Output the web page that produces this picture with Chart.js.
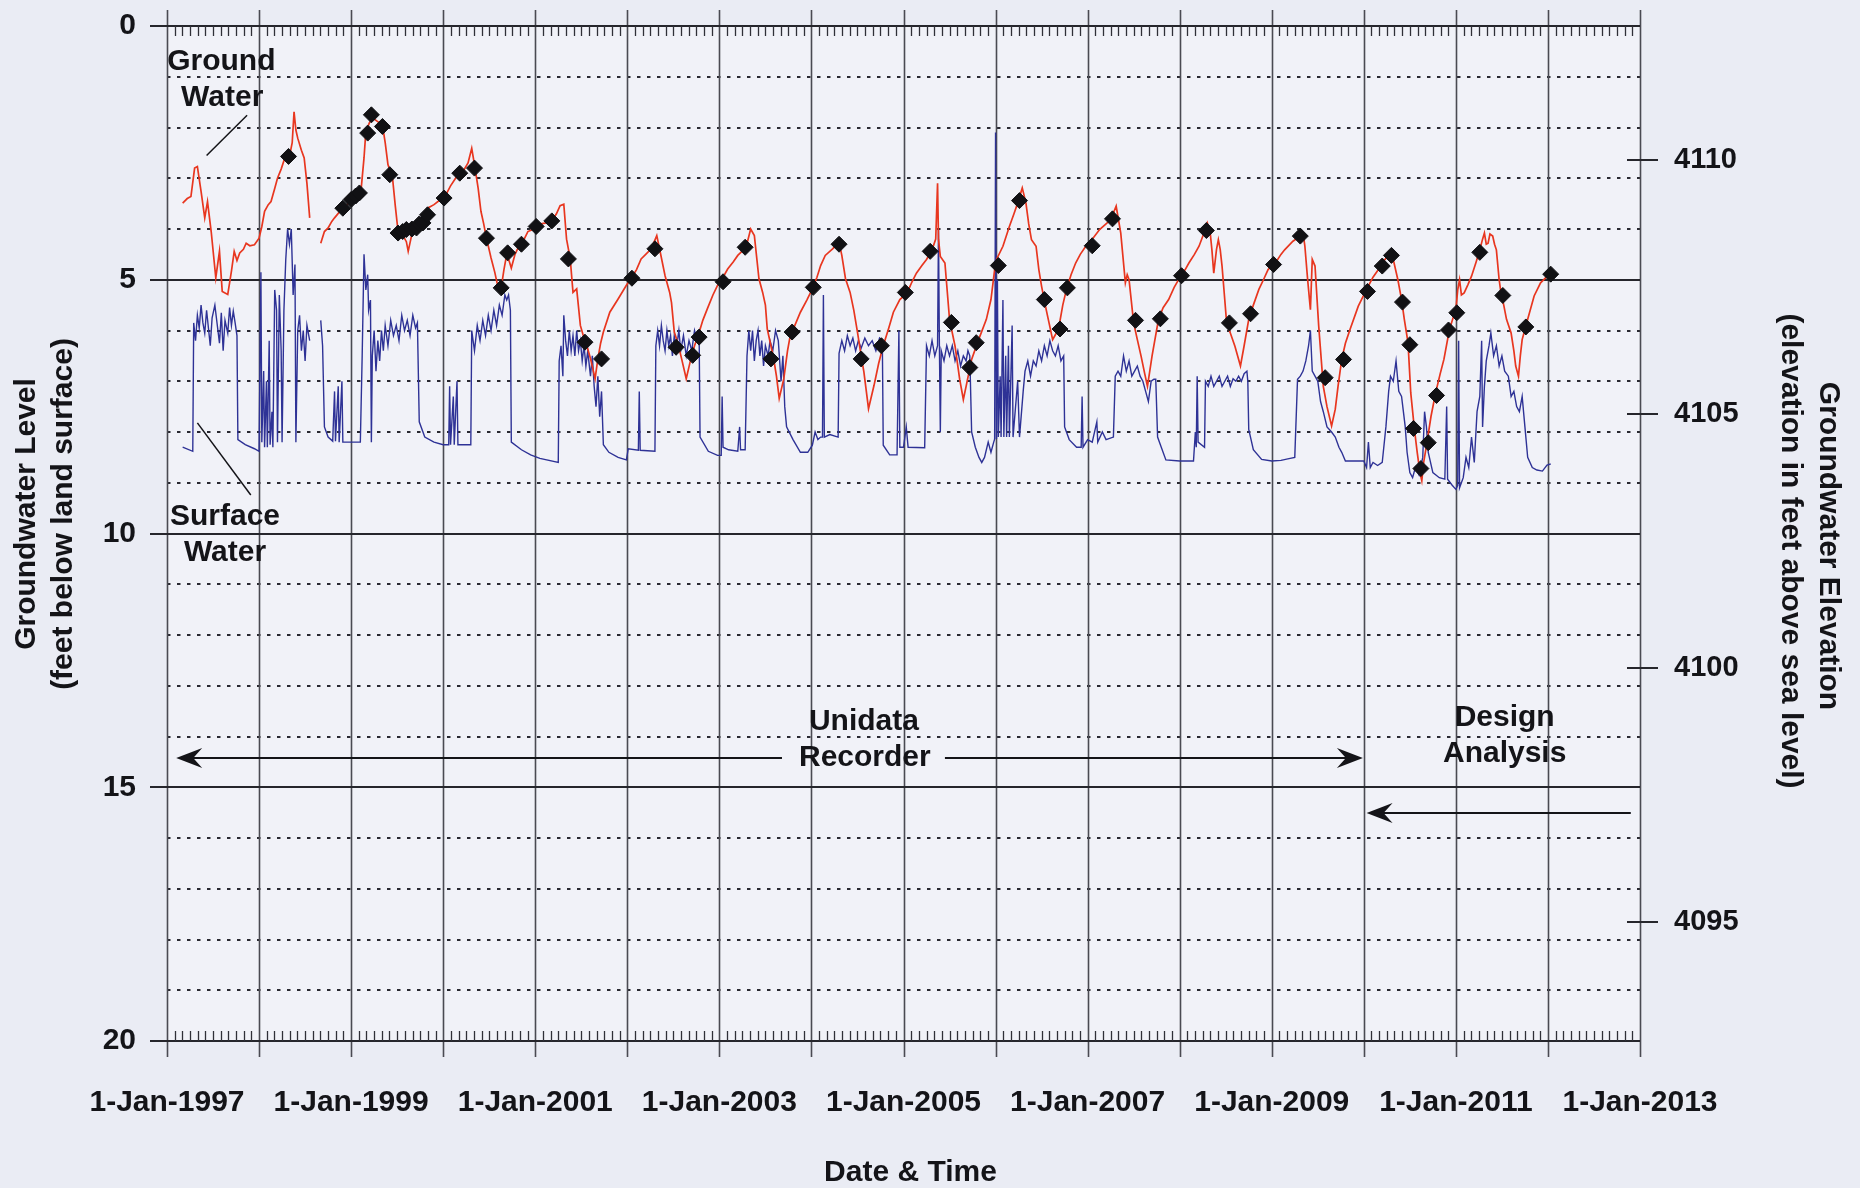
<!DOCTYPE html>
<html>
<head>
<meta charset="utf-8">
<script src="https://cdn.jsdelivr.net/npm/chart.js@4.4.1/dist/chart.umd.min.js"></script>
<style>
  html, body { margin: 0; padding: 0; background: #eaecf4; }
  #c { display: block; }
</style>
</head>
<body>
<canvas id="c" width="1860" height="1188"></canvas>
<script>
// year ticks on the date axis, labelled every other year
let yearTicks = [1997, 1998, 1999, 2000, 2001, 2002, 2003, 2004, 2005, 2006, 2007, 2008, 2009, 2010, 2011, 2012, 2013];
let labelYears = [1997, 1999, 2001, 2003, 2005, 2007, 2009, 2011, 2013];
let depthTicks = [0, 5, 10, 15, 20];
let elevTicks = [4095, 4100, 4105, 4110];
let elevAtZero = 4112.65; // elevation of land surface

// ground water level, feet below land surface [decimal year, depth]
let groundwater = [
  [1997.17, 3.49], [1997.22, 3.40], [1997.26, 3.36], [1997.30, 2.80], [1997.33, 2.77], [1997.37, 3.26],
  [1997.41, 3.78], [1997.44, 3.46], [1997.48, 4.05], [1997.53, 4.96], [1997.57, 4.44], [1997.60, 5.23],
  [1997.66, 5.29], [1997.70, 4.83], [1997.73, 4.44], [1997.76, 4.62], [1997.79, 4.47], [1997.83, 4.40],
  [1997.86, 4.28], [1997.90, 4.33], [1997.95, 4.31], [1998.00, 4.18], [1998.03, 3.95], [1998.06, 3.65],
  [1998.10, 3.52], [1998.13, 3.46], [1998.17, 3.20], [1998.20, 3.00], [1998.24, 2.82], [1998.28, 2.60],
  [1998.33, 2.57], [1998.36, 2.30], [1998.38, 1.69], [1998.40, 2.05], [1998.42, 2.21], [1998.46, 2.45],
  [1998.49, 2.60], [1998.52, 3.10], [1998.55, 3.78], [1998.61, null],
  [1998.67, 4.28], [1998.71, 4.05], [1998.75, 3.98], [1998.79, 3.85], [1998.82, 3.78], [1998.88, 3.65],
  [1998.93, 3.59], [1999.00, 3.42], [1999.04, 3.32], [1999.09, 3.25], [1999.11, 3.19], [1999.14, 2.60],
  [1999.16, 2.08], [1999.20, 1.90], [1999.24, 1.82], [1999.30, 1.90], [1999.34, 1.95], [1999.37, 2.30],
  [1999.40, 2.73], [1999.45, 3.00], [1999.48, 3.55], [1999.51, 4.05], [1999.56, 4.12], [1999.60, 4.25],
  [1999.62, 4.44], [1999.66, 4.10], [1999.69, 4.05], [1999.74, 3.95], [1999.80, 3.78], [1999.83, 3.59],
  [1999.90, 3.52], [1999.95, 3.45], [2000.01, 3.39], [2000.08, 3.15], [2000.16, 2.93], [2000.22, 2.85],
  [2000.27, 2.70], [2000.31, 2.41], [2000.34, 2.73], [2000.38, 3.20], [2000.41, 3.65], [2000.44, 3.90],
  [2000.47, 4.18], [2000.52, 4.57], [2000.56, 4.85], [2000.59, 5.10], [2000.63, 5.16], [2000.66, 4.80],
  [2000.69, 4.50], [2000.72, 4.65], [2000.74, 4.77], [2000.78, 4.50], [2000.83, 4.31], [2000.88, 4.20],
  [2000.92, 4.05], [2000.96, 4.02], [2001.01, 3.95], [2001.06, 3.90], [2001.12, 3.88], [2001.18, 3.84],
  [2001.23, 3.70], [2001.27, 3.54], [2001.31, 3.51], [2001.34, 4.20], [2001.38, 4.59], [2001.41, 5.25],
  [2001.45, 5.18], [2001.49, 5.90], [2001.53, 6.15], [2001.56, 6.30], [2001.60, 6.55], [2001.65, 6.95],
  [2001.68, 6.56], [2001.71, 6.25], [2001.74, 6.03], [2001.81, 5.64], [2001.90, 5.38], [2001.99, 5.11],
  [2002.05, 4.95], [2002.10, 4.80], [2002.15, 4.59], [2002.20, 4.50], [2002.26, 4.39], [2002.32, 4.13],
  [2002.35, 4.39], [2002.41, 4.92], [2002.46, 5.25], [2002.48, 5.45], [2002.51, 6.03], [2002.55, 6.25],
  [2002.59, 6.56], [2002.64, 6.95], [2002.69, 6.56], [2002.73, 6.30], [2002.77, 6.10], [2002.82, 5.80],
  [2002.87, 5.57], [2002.93, 5.30], [2002.98, 5.11], [2003.04, 4.95], [2003.09, 4.79], [2003.15, 4.65],
  [2003.20, 4.52], [2003.29, 4.36], [2003.34, 4.00], [2003.38, 4.13], [2003.43, 4.98], [2003.47, 5.25],
  [2003.50, 5.50], [2003.52, 5.97], [2003.56, 6.30], [2003.59, 6.56], [2003.62, 6.90], [2003.65, 7.34],
  [2003.70, 6.95], [2003.74, 6.40], [2003.77, 6.10], [2003.82, 5.90], [2003.88, 5.64], [2003.95, 5.40],
  [2004.01, 5.18], [2004.06, 4.95], [2004.10, 4.72], [2004.15, 4.52], [2004.23, 4.39], [2004.30, 4.26],
  [2004.33, 4.52], [2004.37, 4.98], [2004.42, 5.25], [2004.46, 5.60], [2004.50, 6.03], [2004.54, 6.50],
  [2004.57, 6.82], [2004.62, 7.54], [2004.68, 7.08], [2004.73, 6.65], [2004.78, 6.30], [2004.84, 5.95],
  [2004.89, 5.64], [2004.96, 5.39], [2005.04, 5.26], [2005.09, 5.05], [2005.14, 4.87], [2005.20, 4.72],
  [2005.25, 4.60], [2005.31, 4.41], [2005.35, 4.20], [2005.37, 3.10], [2005.38, 4.20], [2005.40, 4.54],
  [2005.45, 4.67], [2005.50, 5.78], [2005.56, 6.31], [2005.61, 6.96], [2005.65, 7.36], [2005.68, 7.10],
  [2005.74, 6.57], [2005.81, 6.21], [2005.90, 5.78], [2005.95, 5.39], [2005.99, 4.80], [2006.01, 4.60],
  [2006.08, 4.34], [2006.15, 3.95], [2006.20, 3.70], [2006.24, 3.49], [2006.29, 3.19], [2006.33, 3.49],
  [2006.36, 3.90], [2006.39, 4.21], [2006.44, 4.34], [2006.47, 4.80], [2006.50, 5.13], [2006.55, 5.59],
  [2006.62, 6.18], [2006.66, 6.05], [2006.69, 5.91], [2006.73, 5.50], [2006.77, 5.19], [2006.82, 4.90],
  [2006.87, 4.67], [2006.92, 4.50], [2006.98, 4.34], [2007.05, 4.20], [2007.13, 4.01], [2007.20, 3.90],
  [2007.25, 3.82], [2007.31, 3.55], [2007.36, 4.08], [2007.41, 5.06], [2007.43, 4.90], [2007.45, 5.00],
  [2007.50, 5.85], [2007.54, 6.18], [2007.58, 6.50], [2007.62, 6.85], [2007.65, 7.10], [2007.70, 6.50],
  [2007.77, 5.78], [2007.82, 5.55], [2007.88, 5.39], [2007.94, 5.15], [2008.01, 4.93], [2008.06, 4.80],
  [2008.10, 4.67], [2008.16, 4.50], [2008.21, 4.34], [2008.26, 4.10], [2008.30, 3.88], [2008.33, 4.05],
  [2008.35, 4.41], [2008.37, 4.87], [2008.40, 4.40], [2008.42, 4.21], [2008.44, 4.40], [2008.46, 4.73],
  [2008.51, 5.85], [2008.55, 6.05], [2008.60, 6.31], [2008.66, 6.70], [2008.70, 6.30], [2008.75, 5.78],
  [2008.80, 5.50], [2008.86, 5.19], [2008.91, 5.00], [2008.96, 4.80], [2009.04, 4.67], [2009.10, 4.50],
  [2009.14, 4.41], [2009.23, 4.24], [2009.31, 4.14], [2009.34, 4.08], [2009.36, 4.34], [2009.39, 5.00],
  [2009.42, 5.59], [2009.44, 4.60], [2009.47, 4.73], [2009.51, 5.91], [2009.56, 7.10], [2009.60, 7.50],
  [2009.65, 7.88], [2009.69, 7.55], [2009.72, 7.10], [2009.76, 6.57], [2009.80, 6.25], [2009.85, 5.98],
  [2009.94, 5.52], [2010.03, 5.19], [2010.10, 4.95], [2010.17, 4.77], [2010.22, 4.62], [2010.26, 4.54],
  [2010.32, 4.60], [2010.37, 5.00], [2010.41, 5.39], [2010.44, 5.78], [2010.48, 6.24], [2010.51, 7.23],
  [2010.55, 7.95], [2010.58, 8.40], [2010.61, 8.80], [2010.63, 8.96], [2010.65, 8.60], [2010.68, 8.28],
  [2010.73, 7.69], [2010.78, 7.23], [2010.83, 6.85], [2010.87, 6.57], [2010.93, 5.98], [2010.97, 5.75],
  [2011.00, 5.59], [2011.02, 5.20], [2011.04, 5.00], [2011.06, 5.30], [2011.09, 5.26], [2011.13, 5.10],
  [2011.17, 4.93], [2011.22, 4.65], [2011.26, 4.41], [2011.29, 4.20], [2011.31, 4.08], [2011.33, 4.30],
  [2011.35, 4.28], [2011.37, 4.10], [2011.40, 4.14], [2011.42, 4.30], [2011.44, 4.41], [2011.47, 5.00],
  [2011.49, 5.26], [2011.52, 5.50], [2011.55, 5.78], [2011.60, 6.05], [2011.63, 6.40], [2011.65, 6.70],
  [2011.68, 6.90], [2011.70, 6.50], [2011.72, 6.18], [2011.78, 5.78], [2011.85, 5.32], [2011.92, 5.06],
  [2012.01, 4.90]
];

// surface water level, same depth scale [decimal year, depth]
let surfaceWater = [
  [1997.17, 8.30], [1997.28, 8.38], [1997.29, 5.85], [1997.31, 6.20], [1997.33, 5.70], [1997.35, 5.95],
  [1997.37, 5.50], [1997.39, 5.85], [1997.41, 6.05], [1997.43, 5.60], [1997.45, 5.95], [1997.47, 6.30],
  [1997.49, 5.75], [1997.52, 5.50], [1997.55, 5.95], [1997.57, 6.25], [1997.59, 5.65], [1997.61, 6.40],
  [1997.63, 5.80], [1997.66, 6.05], [1997.68, 5.55], [1997.70, 5.90], [1997.72, 5.62], [1997.74, 5.85],
  [1997.76, 6.10], [1997.77, 8.15], [1997.85, 8.25], [1997.95, 8.33], [1998.00, 8.38],
  [1998.02, 4.85], [1998.03, 8.20], [1998.05, 6.80], [1998.06, 8.30], [1998.08, 7.00], [1998.09, 8.30],
  [1998.11, 6.20], [1998.12, 8.25], [1998.14, 7.60], [1998.15, 8.30], [1998.17, 5.20], [1998.19, 5.60],
  [1998.20, 8.20], [1998.22, 5.30], [1998.24, 6.40], [1998.25, 8.20], [1998.27, 5.60], [1998.29, 4.60],
  [1998.31, 4.00], [1998.33, 4.30], [1998.35, 4.00], [1998.37, 5.30], [1998.39, 4.70], [1998.40, 8.20],
  [1998.42, 6.00], [1998.44, 5.70], [1998.46, 6.40], [1998.48, 6.00], [1998.50, 6.60], [1998.52, 5.90],
  [1998.55, 6.20], [1998.61, null],
  [1998.67, 5.80], [1998.69, 6.30], [1998.71, 7.90], [1998.75, 8.10], [1998.80, 8.18], [1998.82, 7.20],
  [1998.83, 8.18], [1998.86, 7.10], [1998.87, 8.20], [1998.90, 7.00], [1998.91, 8.20], [1998.95, 8.20],
  [1999.00, 8.20], [1999.05, 8.20], [1999.10, 8.20], [1999.12, 6.50], [1999.14, 4.50], [1999.16, 5.20],
  [1999.18, 4.90], [1999.19, 5.60], [1999.21, 5.40], [1999.22, 8.20], [1999.23, 6.50], [1999.25, 6.00],
  [1999.27, 6.80], [1999.29, 6.20], [1999.31, 6.60], [1999.33, 6.00], [1999.35, 6.40], [1999.37, 5.90],
  [1999.40, 6.30], [1999.43, 5.80], [1999.46, 6.10], [1999.49, 5.90], [1999.52, 6.20], [1999.55, 5.70],
  [1999.58, 6.00], [1999.61, 5.80], [1999.64, 6.10], [1999.67, 5.70], [1999.70, 5.95], [1999.72, 5.85],
  [1999.74, 7.80], [1999.80, 8.10], [1999.90, 8.20], [2000.00, 8.25], [2000.06, 8.25], [2000.07, 7.10],
  [2000.08, 8.25], [2000.11, 7.30], [2000.12, 8.25], [2000.15, 7.00], [2000.16, 8.25], [2000.20, 8.25],
  [2000.24, 8.25], [2000.30, 8.25], [2000.31, 6.00], [2000.34, 6.40], [2000.37, 5.90], [2000.40, 6.20],
  [2000.43, 5.80], [2000.46, 6.10], [2000.49, 5.70], [2000.52, 6.00], [2000.55, 5.60], [2000.58, 5.90],
  [2000.61, 5.50], [2000.64, 5.70], [2000.67, 5.30], [2000.69, 5.40], [2000.71, 5.30], [2000.73, 5.60],
  [2000.74, 8.20], [2000.85, 8.35], [2000.95, 8.45], [2001.05, 8.52], [2001.25, 8.60],
  [2001.26, 6.60], [2001.28, 6.30], [2001.30, 6.90], [2001.31, 5.70], [2001.33, 6.20], [2001.35, 6.50],
  [2001.37, 6.00], [2001.39, 6.40], [2001.41, 6.10], [2001.43, 6.50], [2001.45, 6.00], [2001.47, 6.40],
  [2001.49, 6.20], [2001.51, 6.60], [2001.53, 6.30], [2001.55, 6.70], [2001.57, 6.40], [2001.60, 6.90],
  [2001.62, 6.50], [2001.64, 7.10], [2001.66, 7.50], [2001.68, 6.90], [2001.70, 7.70], [2001.72, 7.20],
  [2001.74, 8.25], [2001.80, 8.40], [2001.90, 8.50], [2001.99, 8.55], [2002.01, 8.33], [2002.12, 8.36],
  [2002.13, 7.20], [2002.14, 8.36], [2002.30, 8.38], [2002.31, 6.30], [2002.33, 6.00], [2002.35, 6.30],
  [2002.37, 5.90], [2002.39, 6.20], [2002.41, 6.40], [2002.43, 6.00], [2002.45, 6.30], [2002.47, 6.10],
  [2002.49, 6.50], [2002.51, 6.10], [2002.53, 6.40], [2002.56, 6.00], [2002.58, 6.40], [2002.61, 6.10],
  [2002.64, 6.50], [2002.67, 6.20], [2002.70, 6.40], [2002.73, 6.00], [2002.76, 6.20], [2002.78, 6.05],
  [2002.79, 8.10], [2002.88, 8.38], [2002.98, 8.46], [2003.02, 8.46], [2003.03, 7.30], [2003.04, 8.30],
  [2003.10, 8.35], [2003.20, 8.38], [2003.22, 7.90], [2003.23, 8.35], [2003.28, 8.35], [2003.30, 6.50],
  [2003.32, 6.00], [2003.34, 6.40], [2003.36, 6.00], [2003.38, 6.60], [2003.40, 6.20], [2003.42, 6.00],
  [2003.44, 6.50], [2003.46, 6.20], [2003.48, 6.70], [2003.50, 6.30], [2003.53, 6.50], [2003.55, 6.20],
  [2003.58, 6.40], [2003.61, 6.00], [2003.64, 6.20], [2003.67, 7.00], [2003.69, 6.50], [2003.71, 7.50],
  [2003.73, 7.90], [2003.80, 8.15], [2003.88, 8.40], [2003.96, 8.40], [2004.01, 8.26], [2004.04, 8.00],
  [2004.07, 8.15], [2004.10, 8.10], [2004.12, 8.10], [2004.13, 5.30], [2004.14, 8.10], [2004.20, 8.05],
  [2004.29, 8.10], [2004.30, 6.45], [2004.33, 6.20], [2004.36, 6.40], [2004.39, 6.10], [2004.42, 6.30],
  [2004.45, 6.15], [2004.48, 6.40], [2004.51, 6.20], [2004.54, 6.35], [2004.58, 6.15], [2004.62, 6.30],
  [2004.66, 6.20], [2004.70, 6.40], [2004.74, 6.15], [2004.77, 6.20], [2004.78, 8.26], [2004.85, 8.45],
  [2004.93, 8.45], [2004.95, 6.00], [2004.96, 8.30], [2005.00, 8.30], [2005.03, 7.90], [2005.05, 8.30],
  [2005.23, 8.31], [2005.25, 6.30], [2005.28, 6.50], [2005.31, 6.20], [2005.34, 6.50], [2005.37, 6.30],
  [2005.38, 4.00], [2005.39, 6.30], [2005.40, 8.00], [2005.41, 6.40], [2005.44, 6.60], [2005.47, 6.30],
  [2005.50, 6.50], [2005.53, 6.30], [2005.56, 6.60], [2005.59, 6.40], [2005.62, 6.70], [2005.65, 6.50],
  [2005.68, 6.60], [2005.70, 6.40], [2005.72, 6.50], [2005.74, 8.00], [2005.78, 8.30], [2005.82, 8.50],
  [2005.85, 8.60], [2005.88, 8.50], [2005.92, 8.20], [2005.95, 8.40], [2005.98, 8.20], [2005.99, 8.14],
  [2006.00, 2.10], [2006.01, 8.14], [2006.02, 5.00], [2006.03, 8.10], [2006.05, 6.90], [2006.06, 8.10],
  [2006.08, 5.40], [2006.09, 8.10], [2006.11, 6.50], [2006.12, 8.10], [2006.14, 6.30], [2006.15, 8.10],
  [2006.18, 5.90], [2006.19, 8.10], [2006.24, 7.00], [2006.26, 8.10], [2006.30, 7.20], [2006.32, 6.80],
  [2006.35, 6.60], [2006.38, 6.90], [2006.41, 6.60], [2006.44, 6.70], [2006.47, 6.40], [2006.50, 6.60],
  [2006.53, 6.30], [2006.56, 6.50], [2006.59, 6.20], [2006.62, 6.40], [2006.65, 6.50], [2006.68, 6.30],
  [2006.71, 6.60], [2006.74, 6.50], [2006.75, 7.90], [2006.80, 8.15], [2006.88, 8.30], [2006.93, 8.30],
  [2006.94, 7.30], [2006.95, 8.30], [2007.00, 8.15], [2007.05, 8.20], [2007.10, 7.80], [2007.11, 8.20],
  [2007.16, 8.00], [2007.20, 8.15], [2007.28, 8.10], [2007.30, 6.90], [2007.33, 6.80], [2007.36, 6.90],
  [2007.39, 6.50], [2007.42, 6.80], [2007.45, 6.60], [2007.48, 6.90], [2007.51, 6.80], [2007.54, 6.70],
  [2007.57, 6.90], [2007.60, 7.00], [2007.63, 7.20], [2007.66, 7.40], [2007.69, 7.00], [2007.72, 6.96],
  [2007.74, 6.96], [2007.76, 8.10], [2007.80, 8.30], [2007.85, 8.55], [2008.00, 8.57], [2008.15, 8.57],
  [2008.17, 8.00], [2008.18, 8.30], [2008.19, 6.90], [2008.20, 8.20], [2008.27, 8.30], [2008.28, 7.00],
  [2008.31, 7.10], [2008.34, 6.90], [2008.37, 7.10], [2008.40, 7.00], [2008.43, 6.90], [2008.46, 7.10],
  [2008.49, 7.00], [2008.52, 6.90], [2008.55, 7.10], [2008.58, 6.95], [2008.61, 7.00], [2008.64, 6.90],
  [2008.67, 7.00], [2008.70, 6.85], [2008.73, 6.80], [2008.74, 7.00], [2008.75, 7.95], [2008.80, 8.35],
  [2008.89, 8.54], [2009.00, 8.57], [2009.10, 8.56], [2009.20, 8.52], [2009.25, 8.50],
  [2009.28, 6.96], [2009.31, 6.90], [2009.34, 6.80], [2009.37, 6.60], [2009.40, 6.30], [2009.42, 6.00],
  [2009.44, 6.80], [2009.47, 6.90], [2009.50, 7.00], [2009.53, 7.40], [2009.56, 7.60], [2009.60, 7.90],
  [2009.65, 8.00], [2009.69, 8.10], [2009.73, 8.30], [2009.76, 8.40], [2009.80, 8.57], [2010.00, 8.57],
  [2010.03, 8.70], [2010.05, 8.20], [2010.07, 8.70], [2010.10, 8.60], [2010.15, 8.66], [2010.20, 8.60],
  [2010.24, 7.90], [2010.27, 7.20], [2010.29, 6.90], [2010.32, 7.00], [2010.35, 6.60], [2010.38, 7.20],
  [2010.41, 7.30], [2010.45, 7.90], [2010.47, 8.40], [2010.50, 8.80], [2010.53, 8.90], [2010.56, 8.70],
  [2010.60, 8.85], [2010.64, 8.50], [2010.66, 7.60], [2010.68, 7.90], [2010.70, 8.40], [2010.75, 8.80],
  [2010.82, 8.90], [2010.88, 8.93], [2010.90, 7.50], [2010.91, 8.93], [2010.96, 9.05], [2011.00, 9.13],
  [2011.02, 9.05], [2011.03, 6.20], [2011.04, 9.10], [2011.08, 8.90], [2011.11, 8.50], [2011.14, 8.70],
  [2011.17, 8.10], [2011.20, 8.60], [2011.23, 7.60], [2011.26, 7.30], [2011.28, 6.20], [2011.29, 7.90],
  [2011.31, 7.10], [2011.33, 6.60], [2011.36, 6.30], [2011.38, 6.05], [2011.41, 6.50], [2011.44, 6.30],
  [2011.47, 6.70], [2011.50, 6.50], [2011.53, 6.80], [2011.57, 6.90], [2011.60, 7.30], [2011.63, 7.20],
  [2011.66, 7.50], [2011.69, 7.60], [2011.72, 7.30], [2011.75, 7.90], [2011.78, 8.50], [2011.83, 8.70],
  [2011.88, 8.75], [2011.94, 8.77], [2011.99, 8.65], [2012.03, 8.63]
];

// hand measurements of ground water [decimal year, depth]
let manual = [
  [1998.32, 2.57], [1998.91, 3.59], [1999.00, 3.42], [1999.05, 3.35], [1999.09, 3.29], [1999.18, 2.11],
  [1999.22, 1.75], [1999.34, 1.98], [1999.42, 2.93], [1999.51, 4.08], [1999.56, 4.05], [1999.60, 4.01],
  [1999.66, 4.00], [1999.71, 3.98], [1999.74, 3.90], [1999.78, 3.88], [1999.83, 3.72], [2000.01, 3.39],
  [2000.18, 2.90], [2000.34, 2.80], [2000.47, 4.18], [2000.63, 5.16], [2000.70, 4.47], [2000.85, 4.30],
  [2001.01, 3.95], [2001.18, 3.84], [2001.36, 4.59], [2001.54, 6.23], [2001.72, 6.56], [2002.05, 4.97],
  [2002.30, 4.39], [2002.53, 6.33], [2002.71, 6.49], [2002.78, 6.13], [2003.04, 5.04], [2003.28, 4.36],
  [2003.56, 6.56], [2003.79, 6.03], [2004.02, 5.15], [2004.30, 4.30], [2004.54, 6.56], [2004.76, 6.30],
  [2005.02, 5.25], [2005.29, 4.44], [2005.52, 5.84], [2005.72, 6.73], [2005.79, 6.24], [2006.03, 4.72],
  [2006.26, 3.44], [2006.53, 5.39], [2006.70, 5.97], [2006.78, 5.16], [2007.05, 4.33], [2007.27, 3.80],
  [2007.52, 5.80], [2007.79, 5.77], [2008.02, 4.92], [2008.29, 4.03], [2008.54, 5.85], [2008.77, 5.67],
  [2009.02, 4.70], [2009.31, 4.14], [2009.58, 6.93], [2009.78, 6.57], [2010.04, 5.23], [2010.20, 4.73],
  [2010.30, 4.52], [2010.42, 5.44], [2010.50, 6.28], [2010.54, 7.93], [2010.62, 8.72], [2010.70, 8.21],
  [2010.79, 7.28], [2010.92, 5.99], [2011.01, 5.65], [2011.26, 4.46], [2011.51, 5.31], [2011.76, 5.93],
  [2012.03, 4.89]
];

const FONT = "'Liberation Sans', Arial, sans-serif";
const INK = '#141418';

function pts(list) {
  return list.map(p => ({ x: p[0], y: p[1] }));
}

function line(ctx, x1, y1, x2, y2) {
  ctx.beginPath();
  ctx.moveTo(x1, y1);
  ctx.lineTo(x2, y2);
  ctx.stroke();
}

function arrowHead(ctx, tipX, y, dir) {
  // dir = -1 points left, +1 points right
  ctx.beginPath();
  ctx.moveTo(tipX, y);
  ctx.lineTo(tipX - dir * 26, y - 10);
  ctx.lineTo(tipX - dir * 17, y);
  ctx.lineTo(tipX - dir * 26, y + 10);
  ctx.closePath();
  ctx.fill();
}

function label(ctx, text, x, y) {
  ctx.fillText(text, x, y);
}

// no extra room above/below the value axes, plot starts right at the padding
function fixY(width) {
  return s => {
    s.width = width;
    s.paddingTop = 0;
    s.paddingBottom = 0;
  };
}

// grid, ticks, notes and axis titles
const decor = {
  id: 'decor',
  beforeDraw(chart) {
    const { ctx, chartArea: a } = chart;
    ctx.save();
    ctx.fillStyle = '#eaecf4';
    ctx.fillRect(0, 0, chart.width, chart.height);
    ctx.fillStyle = '#f1f2f8';
    ctx.fillRect(a.left, a.top, a.right - a.left, a.bottom - a.top);
    ctx.restore();
  },
  beforeDatasetsDraw(chart) {
    const { ctx, chartArea: a, scales } = chart;
    const x = scales.x, y = scales.y, y2 = scales.y2;
    ctx.save();
    ctx.strokeStyle = '#2a2a32';

    // dotted lines every foot
    ctx.lineWidth = 2;
    ctx.setLineDash([3.5, 6.5]);
    for (let d = 1; d < 20; d++) {
      if (d % 5 === 0) continue;
      const py = Math.round(y.getPixelForValue(d));
      line(ctx, a.left, py, a.right, py);
    }
    ctx.setLineDash([]);

    // yearly lines run a little past the plot
    ctx.strokeStyle = '#4a4a52';
    ctx.lineWidth = 1.6;
    yearTicks.forEach(v => {
      const px = Math.round(x.getPixelForValue(v)) + 0.5;
      line(ctx, px, a.top - 16, px, a.bottom + 16);
    });

    // solid lines every 5 feet, with left ticks
    ctx.strokeStyle = '#26262c';
    ctx.lineWidth = 2.2;
    depthTicks.forEach(d => {
      const py = Math.round(y.getPixelForValue(d));
      line(ctx, a.left - 17, py, a.right, py);
    });

    // monthly ticks top and bottom
    ctx.lineWidth = 1.3;
    ctx.strokeStyle = '#303038';
    for (let m = 1; m < 16 * 12; m++) {
      if (m % 12 === 0) continue;
      const px = Math.round(x.getPixelForValue(1997 + m / 12)) + 0.5;
      line(ctx, px, a.top, px, a.top + 10);
      line(ctx, px, a.bottom, px, a.bottom - 10);
    }

    // elevation ticks across the right border
    ctx.lineWidth = 2;
    ctx.strokeStyle = '#26262c';
    elevTicks.forEach(e => {
      const py = Math.round(y2.getPixelForValue(e));
      line(ctx, a.right - 13, py, a.right + 18, py);
    });
    ctx.restore();
  },
  afterDraw(chart) {
    const { ctx, chartArea: a, scales } = chart;
    const x = scales.x, y = scales.y;
    const px = v => x.getPixelForValue(v);
    const py = v => y.getPixelForValue(v);

    ctx.save();
    ctx.fillStyle = INK;
    ctx.strokeStyle = INK;
    ctx.font = 'bold 30px ' + FONT;
    ctx.textAlign = 'center';
    ctx.textBaseline = 'middle';

    label(ctx, 'Ground', px(1997.59), py(0.70));
    label(ctx, 'Water', px(1997.60), py(1.41));
    label(ctx, 'Surface', px(1997.63), py(9.67));
    label(ctx, 'Water', px(1997.63), py(10.38));
    label(ctx, 'Unidata', px(2004.57), py(13.71));
    label(ctx, 'Recorder', px(2004.58), py(14.42));
    label(ctx, 'Design', px(2011.53), py(13.63));
    label(ctx, 'Analysis', px(2011.53), py(14.34));

    // leader lines
    ctx.lineWidth = 1.5;
    line(ctx, px(1997.87), py(1.76), px(1997.43), py(2.55));
    line(ctx, px(1997.33), py(7.82), px(1997.91), py(9.24));

    // period arrows
    ctx.lineWidth = 2;
    const ay = Math.round(py(14.42));
    line(ctx, px(1997.10) + 10, ay, px(2003.68), ay);
    line(ctx, px(2005.45), ay, px(2009.99) - 10, ay);
    arrowHead(ctx, px(1997.10), ay, -1);
    arrowHead(ctx, px(2009.99), ay, 1);
    const by = Math.round(py(15.50));
    line(ctx, px(2010.03) + 10, by, px(2012.90), by);
    arrowHead(ctx, px(2010.03), by, -1);

    // axis titles
    label(ctx, 'Date & Time', (a.left + a.right) / 2 + 7, 1173);

    ctx.save();
    ctx.translate(27, 514);
    ctx.rotate(-Math.PI / 2);
    label(ctx, 'Groundwater Level', 0, 0);
    ctx.restore();
    ctx.save();
    ctx.translate(64, 514);
    ctx.rotate(-Math.PI / 2);
    label(ctx, '(feet below land surface)', 0, 0);
    ctx.restore();

    ctx.save();
    ctx.translate(1828, 546);
    ctx.rotate(Math.PI / 2);
    label(ctx, 'Groundwater Elevation', 0, 0);
    ctx.restore();
    ctx.save();
    ctx.translate(1790, 551);
    ctx.rotate(Math.PI / 2);
    label(ctx, '(elevation in feet above sea level)', 0, 0);
    ctx.restore();

    ctx.restore();
  }
};

const tickFont = { family: FONT, size: 30, weight: 'bold' };

new Chart(document.getElementById('c'), {
  type: 'line',
  data: {
    datasets: [
      {
        label: 'Manual measurement',
        type: 'scatter',
        data: pts(manual),
        pointStyle: 'rectRot',
        pointRadius: 8,
        pointBackgroundColor: '#111114',
        pointBorderColor: '#111114',
        pointBorderWidth: 1,
        showLine: false,
        order: 0
      },
      {
        label: 'Ground Water',
        data: pts(groundwater),
        borderColor: '#e8361f',
        borderWidth: 1.7,
        pointRadius: 0,
        tension: 0,
        spanGaps: false,
        order: 1
      },
      {
        label: 'Surface Water',
        data: pts(surfaceWater),
        borderColor: '#2e3296',
        borderWidth: 1.4,
        pointRadius: 0,
        tension: 0,
        spanGaps: false,
        order: 2
      }
    ]
  },
  options: {
    responsive: false,
    animation: false,
    layout: { padding: { top: 26, left: 0, right: 0, bottom: 0 } },
    plugins: { legend: { display: false }, tooltip: { enabled: false } },
    scales: {
      x: {
        type: 'linear',
        position: 'bottom',
        min: 1997,
        max: 2013,
        afterBuildTicks: s => { s.ticks = yearTicks.map(v => ({ value: v })); },
        afterFit: s => { s.height = 147; },
        grid: { display: false, drawTicks: false },
        border: { display: false },
        ticks: {
          autoSkip: false,
          maxRotation: 0,
          padding: 44,
          color: INK,
          font: tickFont,
          callback: v => labelYears.includes(v) ? '1-Jan-' + v : ''
        }
      },
      y: {
        type: 'linear',
        position: 'left',
        reverse: true,
        min: 0,
        max: 20,
        afterBuildTicks: s => { s.ticks = depthTicks.map(v => ({ value: v })); },
        afterFit: fixY(167),
        grid: { display: false, drawTicks: false },
        border: { display: false },
        ticks: { padding: 31, color: INK, font: tickFont }
      },
      y2: {
        type: 'linear',
        position: 'right',
        min: elevAtZero - 20,
        max: elevAtZero,
        afterBuildTicks: s => { s.ticks = elevTicks.map(v => ({ value: v })); },
        afterFit: fixY(220),
        grid: { display: false, drawTicks: false },
        border: { display: false },
        ticks: {
          padding: 34,
          color: INK,
          font: { family: FONT, size: 29, weight: 'bold' },
          callback: v => String(v)
        }
      }
    }
  },
  plugins: [decor]
});
</script>
</body>
</html>
